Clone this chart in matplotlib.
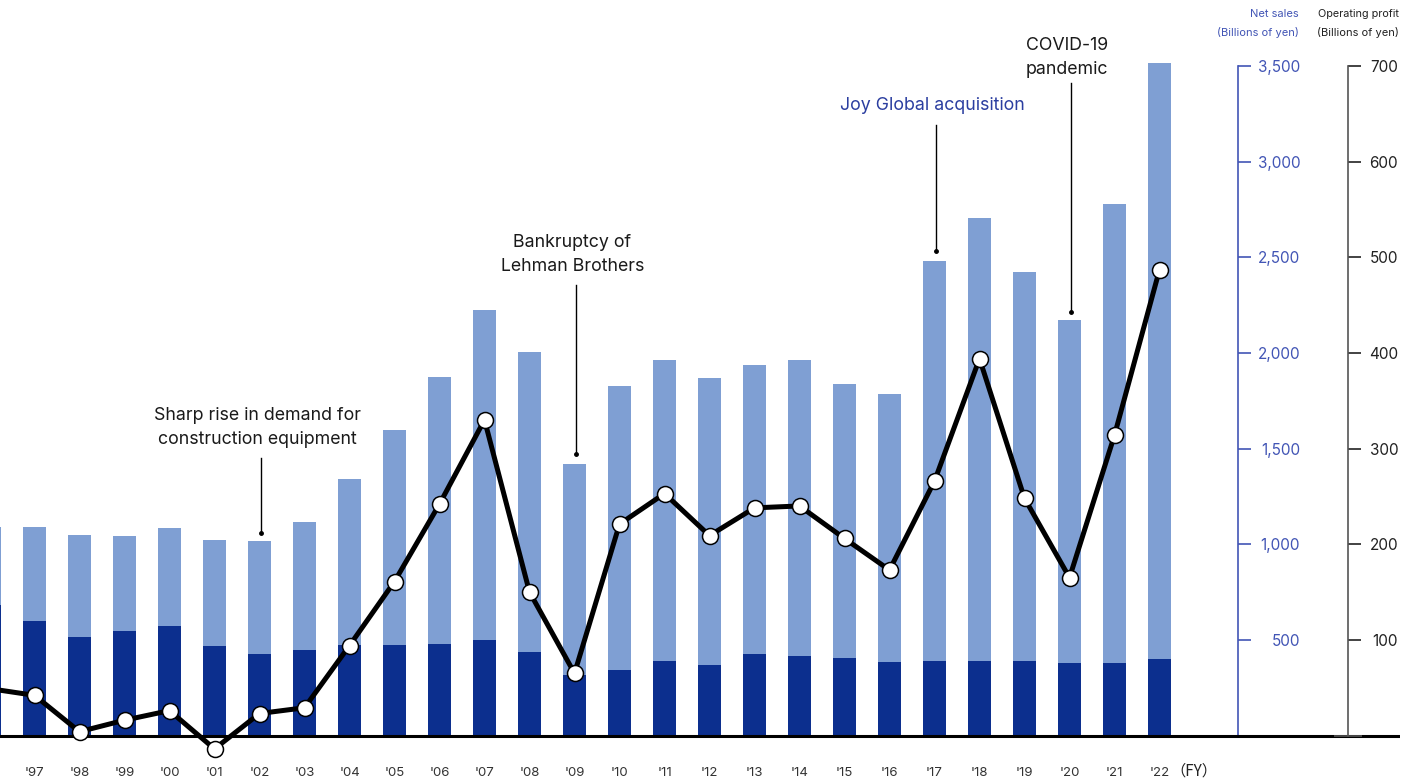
import matplotlib
matplotlib.use("Agg")
import matplotlib.pyplot as plt
import matplotlib.transforms as mtransforms
import numpy as np

plt.rcParams['font.family'] = ['Inter', 'Noto Sans CJK JP', 'DejaVu Sans']

# ---- data ----
years = ["'96", "'97", "'98", "'99", "'00", "'01", "'02", "'03", "'04", "'05", "'06",
         "'07", "'08", "'09", "'10", "'11", "'12", "'13", "'14", "'15", "'16", "'17",
         "'18", "'19", "'20", "'21", "'22"]
net_sales = [1088, 1088, 1046, 1041, 1083, 1020, 1015, 1114, 1339, 1596, 1873,
             2223, 2004, 1418, 1826, 1962, 1868, 1936, 1962, 1836, 1784, 2480,
             2705, 2422, 2171, 2778, 3516]
net_sales_dark = [680, 596, 513, 544, 575, 466, 424, 445, 471, 471, 476,
                  497, 439, 314, 340, 392, 371, 424, 413, 403, 382, 387,
                  392, 387, 377, 377, 398]
op_profit = [49, 42, 4, 16, 26, -14, 23, 29, 94, 161, 242,
             330, 150, 65, 221, 253, 209, 238, 240, 206, 173, 266,
             394, 248, 165, 314, 487]
sales_ticks = [500, 1000, 1500, 2000, 2500, 3000, 3500]
profit_ticks = [100, 200, 300, 400, 500, 600, 700]
# (text, year, text centre (net-sales units), leader top, leader bottom, colour)
events = [("Sharp rise in demand for\nconstruction equipment", "'02", 1610, 1449, 1059, "#1a1a1a"),
          ("Bankruptcy of\nLehman Brothers", "'09", 2513, 2355, 1471, "#1a1a1a"),
          ("Joy Global acquisition", "'17", 3291, 3192, 2533, "#2B3EA0"),
          ("COVID-19\npandemic", "'20", 3545, 3411, 2213, "#1a1a1a")]

LIGHT = "#7F9FD3"
DARK = "#0C2F8E"
BLUE_AX = "#4255B5"
GRAY_AX = "#555555"

W, H = 1408, 783
fig = plt.figure(figsize=(W / 100, H / 100), dpi=100)
ax = fig.add_axes([0, 0, 1400 / W, 1])
ax2 = ax.twinx()

x = np.arange(len(years))
def pix_to_i(p):
    return 1 + (p - 34.5) / 45.0

ax.set_xlim(pix_to_i(0), pix_to_i(1400))
ppu = (735.5 - 66) / 3500.0
ymin = -(H - 735.5) / ppu
ymax = 3500 + 66 / ppu
ax.set_ylim(ymin, ymax)
ax2.set_ylim(ymin / 5, ymax / 5)

bw = 23 / 45.0
ax.bar(x, net_sales, width=bw, color=LIGHT, zorder=2)
ax.bar(x, net_sales_dark, width=bw, color=DARK, zorder=3)

ax.axhline(0, color="black", lw=2.2, zorder=5, xmin=0, xmax=1398 / 1400)

# net sales axis
for s in ["top", "left", "bottom"]:
    ax.spines[s].set_visible(False)
ax.spines["right"].set_visible(True)
ax.spines["right"].set_position(("data", pix_to_i(1238)))
ax.spines["right"].set_bounds(0, 3500)
ax.spines["right"].set_color(BLUE_AX)
ax.spines["right"].set_linewidth(1.2)
ax.yaxis.tick_right()
ax.yaxis.set_label_position("right")
ax.set_yticks(sales_ticks)
ax.set_yticklabels([f"{v:,}" for v in sales_ticks])
ax.set_yticks([0], minor=True)
ax.tick_params(axis="y", which="major", direction="out", length=9.5, width=1.2,
               color=BLUE_AX, labelcolor=BLUE_AX, labelsize=11, pad=35.3,
               left=False, labelleft=False, right=True, labelright=True)
ax.tick_params(axis="y", which="minor", direction="inout", length=20, width=1.2,
               color=BLUE_AX, left=False, right=True)
for lab in ax.get_yticklabels():
    lab.set_horizontalalignment("right")
ax.set_xticks([])

# operating profit axis
for s in ["top", "left", "bottom"]:
    ax2.spines[s].set_visible(False)
ax2.spines["right"].set_position(("data", pix_to_i(1348)))
ax2.spines["right"].set_bounds(0, 700)
ax2.spines["right"].set_color(GRAY_AX)
ax2.spines["right"].set_linewidth(1.2)
ax2.set_yticks(profit_ticks)
ax2.set_yticklabels([str(v) for v in profit_ticks])
ax2.set_yticks([0], minor=True)
ax2.tick_params(axis="y", which="major", direction="out", length=9.5, width=1.2,
                color="#222222", labelcolor="#222222", labelsize=11, pad=26.6)
ax2.tick_params(axis="y", which="minor", direction="inout", length=20, width=1.2,
                color=GRAY_AX)
for lab in ax2.get_yticklabels():
    lab.set_horizontalalignment("right")

ax2.plot(x, op_profit, color="black", lw=3.6, marker="o", markersize=11.5,
         markerfacecolor="white", markeredgecolor="black", markeredgewidth=1.1,
         zorder=6, clip_on=True)

# x tick labels as text
trans = mtransforms.blended_transform_factory(ax.transData, fig.transFigure)
lo, hi = ax.get_xlim()
for i, lab in enumerate(years):
    if lo < i < hi:
        ax.text(i, 1 - 773 / H, lab, transform=trans, ha="center", va="center",
                fontsize=9.5, color="#333333")
ax.text(len(years) - 1 + 0.24, 1 - 771 / H, "（FY）", transform=trans, ha="left",
        va="center", fontsize=11, color="#222222", family="Noto Sans CJK JP")

# axis headers
fig.text(1299 / W, 1 - 14 / H, "Net sales", ha="right", va="center", fontsize=8,
         color=BLUE_AX)
fig.text(1299 / W, 1 - 32 / H, "(Billions of yen)", ha="right", va="center",
         fontsize=8, color=BLUE_AX)
fig.text(1399 / W, 1 - 14 / H, "Operating profit", ha="right", va="center",
         fontsize=7.8, color="#222222")
fig.text(1399 / W, 1 - 32 / H, "(Billions of yen)", ha="right", va="center",
         fontsize=8, color="#222222")

# event annotations
for text, yr, ytext, ytop, ybot, col in events:
    i = years.index(yr)
    xi = i + 0.03
    ax.plot([xi, xi], [ytop, ybot], color="black", lw=1.0, zorder=4)
    ax.plot([xi], [ybot], marker="o", markersize=2.5, color="black", zorder=4)
    ax.text(i - 0.05, ytext, text, ha="center", va="center", fontsize=12.8,
            color=col, linespacing=1.55, zorder=7)

fig.savefig("out.png", dpi=100)
